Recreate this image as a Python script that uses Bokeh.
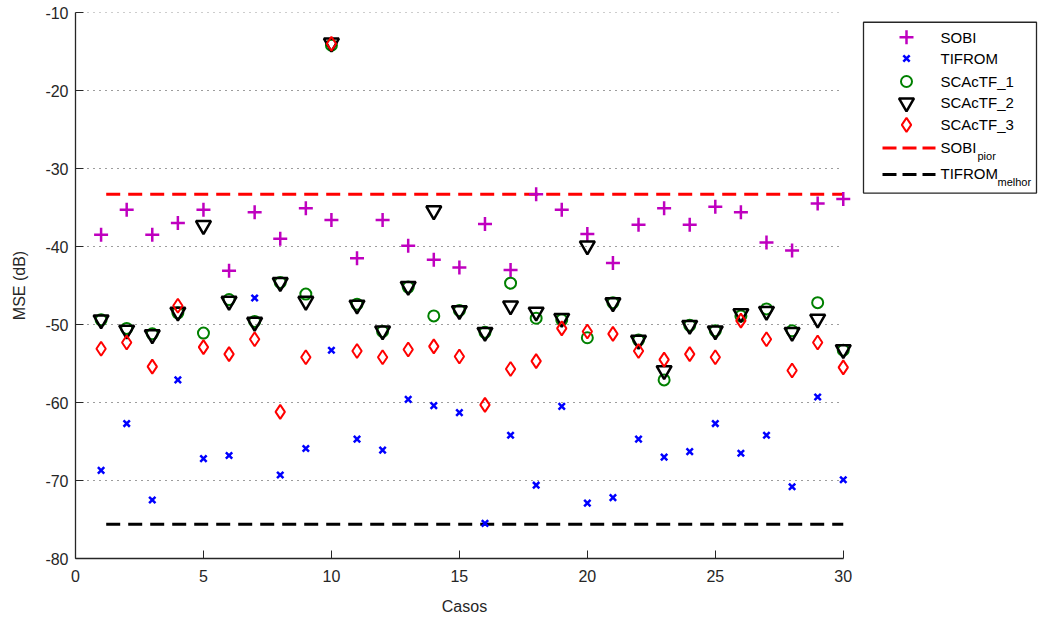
from bokeh.plotting import figure
from bokeh.models import Range1d, FixedTicker
from bokeh.layouts import row
from bokeh.core.properties import value
from bokeh.embed import file_html
from bokeh.resources import INLINE

# Cases and MSE (dB) for each separation method
casos = list(range(1, 31))

sobi = [-38.5, -35.3, -38.5, -37.0, -35.3, -43.1, -35.6, -39.0, -35.1, -36.6,
        -41.5, -36.6, -39.9, -41.7, -42.7, -37.1, -43.0, -33.3, -35.3, -38.4,
        -42.1, -37.2, -35.1, -37.2, -34.9, -35.6, -39.5, -40.5, -34.5, -33.9]

tifrom = [-68.7, -62.7, -72.5, -57.1, -67.2, -66.8, -46.6, -69.3, -65.9, -53.3,
          -64.7, -66.1, -59.6, -60.4, -61.3, -75.5, -64.2, -70.6, -60.5, -72.9,
          -72.2, -64.7, -67.0, -66.3, -62.7, -66.5, -64.2, -70.8, -59.3, -69.9]

scactf_1 = [-49.4, -50.5, -51.2, -48.5, -51.1, -46.8, -49.6, -44.6, -46.1, -14.2,
            -47.4, -50.9, -45.2, -48.9, -48.2, -51.0, -44.7, -49.2, -49.4, -51.7,
            -47.2, -52.0, -57.1, -50.1, -50.8, -48.9, -48.0, -50.8, -47.2, -53.3]

scactf_2 = [-49.4, -50.7, -51.3, -48.4, -37.3, -47.0, -49.7, -44.6, -47.0, -13.9,
            -47.5, -50.8, -45.1, -35.4, -48.2, -51.0, -47.6, -48.4, -49.2, -39.9,
            -47.2, -52.0, -55.9, -50.1, -50.8, -48.6, -48.3, -51.0, -49.3, -53.2]

scactf_3 = [-53.1, -52.3, -55.4, -47.6, -52.9, -53.8, -51.9, -61.2, -54.2, -14.0,
            -53.4, -54.2, -53.2, -52.8, -54.1, -60.3, -55.7, -54.7, -50.5, -50.9,
            -51.2, -53.4, -54.5, -53.8, -54.2, -49.5, -51.9, -55.9, -52.3, -55.5]

# Reference levels (worst SOBI, best TIFROM)
ref_x = [1.2, 30]
sobi_pior = -33.3
tifrom_melhor = -75.6

x_ticks = [0, 5, 10, 15, 20, 25, 30]
y_ticks = [-80, -70, -60, -50, -40, -30, -20, -10]
y_tick_labels = ["-80", "-70", "-60", "-50", "-40", "-30", "-20", "-10"]
x_limits = (0, 30)
y_limits = (-80, -10)

FONT = "Liberation Sans"
AXIS_COLOR = "#262626"
MAGENTA = "#bf00bf"
BLUE = "#0000ff"
GREEN = "#008000"
RED = "#ff0000"
BLACK = "#000000"

# a little room past the last case so its markers are not cut at the frame edge
p = figure(width=858, height=617, x_range=Range1d(x_limits[0], x_limits[1] + 0.4),
           y_range=Range1d(*y_limits),
           output_backend="svg", toolbar_location=None,
           min_border_left=75, min_border_right=5, min_border_top=12, min_border_bottom=59)
p.outline_line_color = None
p.background_fill_color = "white"
p.border_fill_color = "white"
p.grid.visible = False

# dotted horizontal grid, limited to the x extent of the axis
p.segment(x0=[x_limits[0]] * len(y_ticks), x1=[x_limits[1]] * len(y_ticks),
          y0=y_ticks, y1=y_ticks, line_color="#3a3a3a", line_dash="1 5", line_width=1)

for ax in (p.xaxis[0], p.yaxis[0]):
    ax.axis_line_color = AXIS_COLOR
    ax.axis_line_width = 1.3
    ax.major_tick_line_color = AXIS_COLOR
    ax.major_tick_in = 8
    ax.major_tick_out = 0
    ax.minor_tick_line_color = None
    ax.major_label_text_font = FONT
    ax.major_label_text_font_size = "16px"
    ax.major_label_text_color = AXIS_COLOR
    ax.axis_label_text_font = FONT
    ax.axis_label_text_font_size = "16px"
    ax.axis_label_text_font_style = "normal"
    ax.axis_label_text_color = AXIS_COLOR

p.xaxis.bounds = x_limits
p.xaxis.ticker = FixedTicker(ticks=x_ticks)
p.yaxis.ticker = FixedTicker(ticks=y_ticks)
p.yaxis.major_label_overrides = dict(zip(y_ticks, y_tick_labels))
p.xaxis.axis_label = "Casos"
p.yaxis.axis_label = "MSE (dB)"
p.xaxis.major_label_standoff = 11
p.xaxis.axis_label_standoff = 13
p.yaxis.major_label_standoff = 7
p.yaxis.axis_label_standoff = 14

# Reference levels
p.line(ref_x, [sobi_pior] * 2, line_color=RED, line_width=3, line_dash="14 8")
p.line(ref_x, [tifrom_melhor] * 2, line_color=BLACK, line_width=3, line_dash="14 8")

# Per-case results
p.scatter(casos, sobi, marker="cross", size=14, line_color=MAGENTA, line_width=2.5)
p.scatter(casos, tifrom, marker="x", size=9, line_color=BLUE, line_width=2.5)
p.scatter(casos, scactf_1, marker="circle", size=11, line_color=GREEN, line_width=2,
          fill_color=None)
p.scatter(casos, scactf_2, marker="inverted_triangle", size=15, line_color=BLACK,
          line_width=2.5, fill_color=None)
p.scatter(casos, scactf_3, marker="diamond", size=14, line_color=RED, line_width=2,
          fill_color=None)

# Legend panel drawn in pixel coordinates
lg = figure(width=181, height=617, x_range=Range1d(0, 181), y_range=Range1d(617, 0),
            output_backend="svg", toolbar_location=None, min_border=0,
            x_axis_type=None, y_axis_type=None)
lg.outline_line_color = None
lg.grid.visible = False
lg.background_fill_color = "white"
lg.border_fill_color = "white"

lg.quad(left=[5], right=[178], top=[11], bottom=[204], fill_color="white",
        line_color=AXIS_COLOR, line_width=1.3)

marker_x = 48
text_x = 82
rows_y = [28, 52, 78, 102, 127]
labels = ["SOBI", "TIFROM", "SCAcTF_1", "SCAcTF_2", "SCAcTF_3"]
lg.scatter([marker_x], [rows_y[0]], marker="cross", size=14, line_color=MAGENTA, line_width=2.5)
lg.scatter([marker_x], [rows_y[1]], marker="x", size=9, line_color=BLUE, line_width=2.5)
lg.scatter([marker_x], [rows_y[2]], marker="circle", size=11, line_color=GREEN,
           line_width=2, fill_color=None)
lg.scatter([marker_x], [rows_y[3]], marker="inverted_triangle", size=15, line_color=BLACK,
           line_width=2.5, fill_color=None)
lg.scatter([marker_x], [rows_y[4]], marker="diamond", size=14, line_color=RED,
           line_width=2, fill_color=None)
lg.text([text_x] * 5, rows_y, text=labels, text_font=value(FONT),
        text_font_size="15px", text_baseline="middle", text_color=BLACK)

lg.line([24, 77], [153, 153], line_color=RED, line_width=3, line_dash="14 6")
lg.line([24, 77], [183, 183], line_color=BLACK, line_width=3, line_dash="14 6")
lg.text([text_x], [152], text=["SOBI"], text_font=value(FONT),
        text_font_size="15px", text_baseline="middle", text_color=BLACK)
lg.text([119], [162], text=["pior"], text_font=value(FONT),
        text_font_size="11px", text_baseline="middle", text_color=BLACK)
lg.text([text_x], [182], text=["TIFROM"], text_font=value(FONT),
        text_font_size="15px", text_baseline="middle", text_color=BLACK)
lg.text([139], [192], text=["melhor"], text_font=value(FONT),
        text_font_size="11px", text_baseline="middle", text_color=BLACK)

layout = row(p, lg)
open("out.html", "w").write(file_html(layout, INLINE))
